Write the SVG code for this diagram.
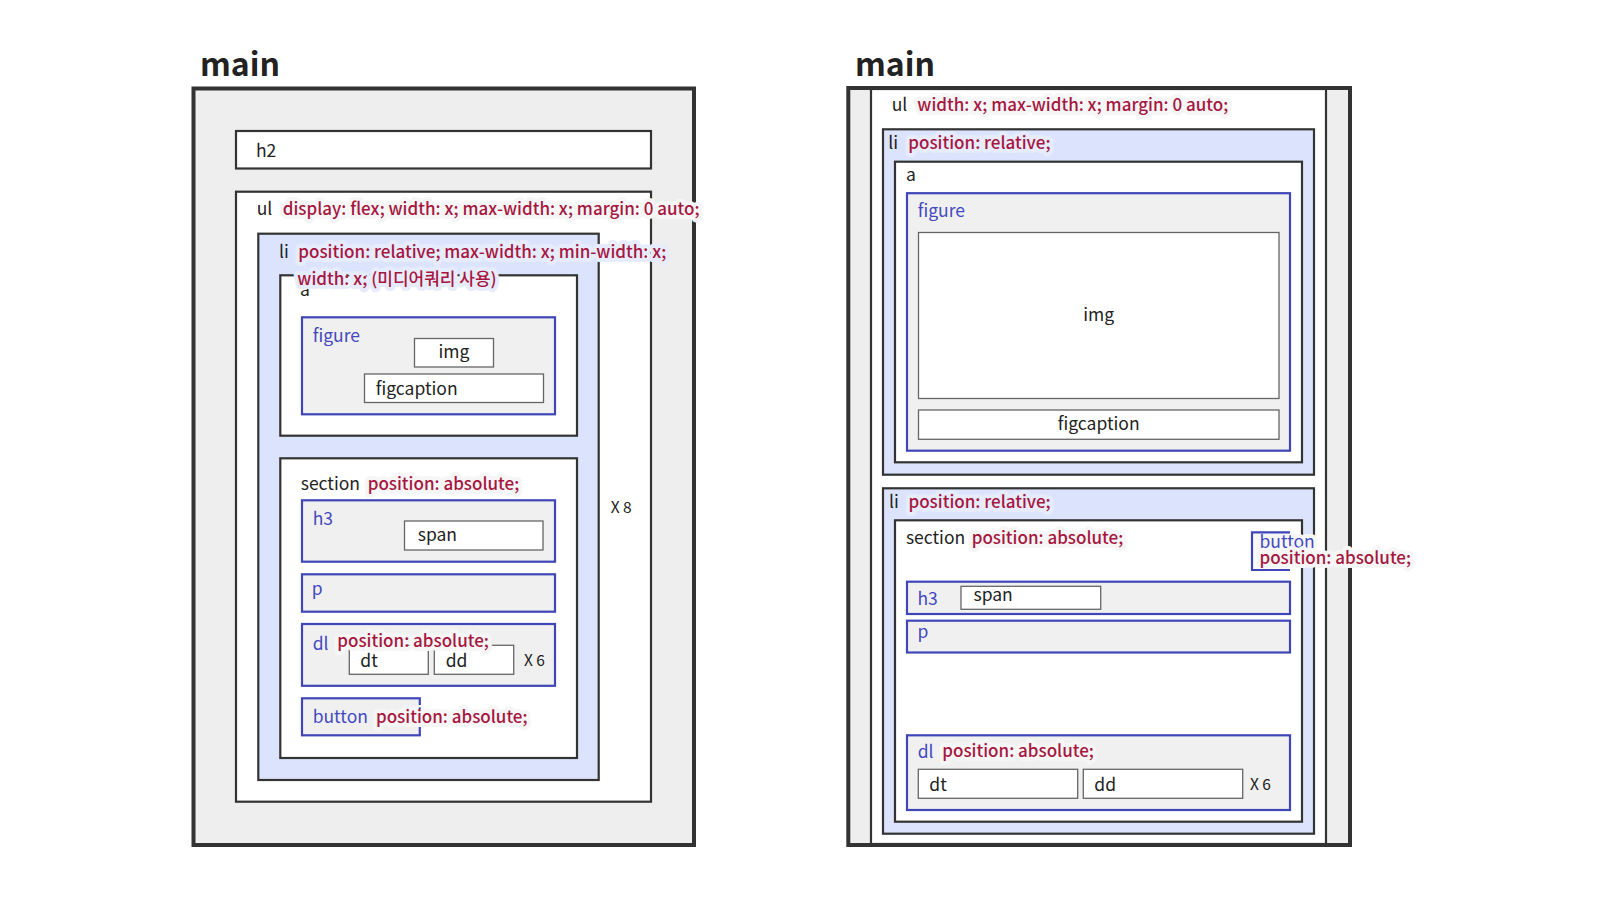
<svg xmlns="http://www.w3.org/2000/svg" width="1600" height="900" viewBox="0 0 1600 900">
<style>
.main{fill:#eeeeee;stroke:#333;stroke-width:4}
.dk{fill:#fff;stroke:#333;stroke-width:2.2}
.li{fill:#dce4fd;stroke:#333;stroke-width:2.2}
.bl{fill:#f0f0f0;stroke:#4046b8;stroke-width:2.2}
.lf{fill:#fff;stroke:#666;stroke-width:1.3}
text{font-family:"Noto Sans CJK KR","Source Sans Pro","Liberation Sans",sans-serif;font-size:17.5px;fill:#222}
.title{font-size:32px;font-weight:bold;fill:#222}
.tb{fill:#4449bf}
.tr{fill:#a6163f;font-size:17px;font-weight:500;paint-order:stroke;stroke:#f6f6f6;stroke-width:8;stroke-linejoin:round;stroke-linecap:round}
.hb{stroke:#e7ecfc}
.hw{paint-order:stroke;stroke:#f6f6f6;stroke-width:8;stroke-linejoin:round}
.sm{font-size:15.5px}
.mid{text-anchor:middle}
</style>
<rect width="1600" height="900" fill="#fff"/>
<g id="connectors"/>

<!-- LEFT DIAGRAM -->
<g id="left-main">
<text class="title" x="200" y="76">main</text>
<rect class="main" x="193.5" y="88.5" width="500.5" height="756.5"/>
</g>
<g id="left-h2">
<rect class="dk" x="236" y="131" width="415" height="37.5"/>
<text x="256" y="157.3">h2</text>
</g>
<g id="left-ul">
<rect class="dk" x="236" y="191.7" width="415" height="610"/>
</g>
<g id="left-li">
<rect class="li" x="258.3" y="233.7" width="340.4" height="546.3"/>
</g>
<g id="left-a">
<rect class="dk" x="280.3" y="275.3" width="296.7" height="160.4"/>
<text x="300" y="296">a</text>
</g>
<g id="left-figure">
<rect class="bl" x="302" y="317.3" width="253" height="97"/>
<text class="tb" x="312.7" y="341.7">figure</text>
</g>
<g id="left-img">
<rect class="lf" x="414.5" y="338.5" width="79" height="28.5"/>
<text class="mid" x="454" y="358.3">img</text>
</g>
<g id="left-figcaption">
<rect class="lf" x="364.5" y="374" width="179" height="28.5"/>
<text x="375.7" y="395">figcaption</text>
</g>
<g id="left-section">
<rect class="dk" x="280.3" y="458.3" width="296.7" height="299.7"/>
<text x="300.7" y="490">section</text>
</g>
<g id="left-h3">
<rect class="bl" x="302" y="500.3" width="253" height="61.4"/>
<text class="tb" x="312.7" y="525">h3</text>
</g>
<g id="left-span">
<rect class="lf" x="404.5" y="521" width="138.5" height="29"/>
<text x="417.7" y="540.7">span</text>
</g>
<g id="left-p">
<rect class="bl" x="302" y="574.3" width="253" height="37.4"/>
<text class="tb" x="311.7" y="595">p</text>
</g>
<g id="left-dl">
<rect class="bl" x="302" y="624" width="253" height="61.8"/>
<text class="tb" x="312.7" y="650">dl</text>
</g>
<g id="left-dt">
<rect class="lf" x="349.3" y="645.3" width="79" height="29"/>
<text x="360.3" y="666.7">dt</text>
</g>
<g id="left-dd">
<rect class="lf" x="434.3" y="645.3" width="79.4" height="29"/>
<text x="445.7" y="666.7">dd</text>
</g>
<text class="sm" x="524" y="666">X 6</text>
<g id="left-button">
<rect class="bl" x="302" y="698.3" width="117.8" height="37"/>
<text class="tb" x="312.7" y="723.3">button</text>
</g>
<text class="sm" x="610.7" y="512.7">X 8</text>
<g id="left-notes">
<text x="256.7" y="215">ul</text>
<text class="tr" x="282.7" y="215">display: flex; width: x; max-width: x; margin: 0 auto;</text>
<text x="279" y="258.3">li</text>
<text class="tr hb" x="298.3" y="258.3">position: relative; max-width: x; min-width: x;</text>
<text class="tr hb" x="297.3" y="285">width: x; (미디어쿼리 사용)</text>
<text class="tr" x="367.7" y="490">position: absolute;</text>
<text class="tr" x="337.3" y="647.3">position: absolute;</text>
<text class="tr" x="376" y="722.7">position: absolute;</text>
</g>

<!-- RIGHT DIAGRAM -->
<g id="right-main">
<text class="title" x="855" y="76">main</text>
<rect class="main" x="848.3" y="88" width="501.7" height="757"/>
</g>
<g id="right-ul">
<rect class="dk" x="871" y="89" width="455" height="755"/>
<text x="891.7" y="111">ul</text>
<text class="tr" x="917.3" y="111">width: x; max-width: x; margin: 0 auto;</text>
</g>
<g id="right-li1">
<rect class="li" x="883" y="129.3" width="431" height="345.4"/>
<text x="888.3" y="149.3">li</text>
<text class="tr hb" x="908.3" y="149.3">position: relative;</text>
</g>
<g id="right-a">
<rect class="dk" x="895" y="161.7" width="407" height="300.6"/>
<text x="906" y="180.7">a</text>
</g>
<g id="right-figure">
<rect class="bl" x="907" y="193.2" width="383" height="257.5"/>
<text class="tb" x="917.7" y="217.3">figure</text>
</g>
<g id="right-img">
<rect class="lf" x="918.5" y="232.5" width="360.5" height="166"/>
<text class="mid" x="1098.7" y="320.6">img</text>
</g>
<g id="right-figcaption">
<rect class="lf" x="918.5" y="410" width="360.5" height="29.3"/>
<text class="mid" x="1098.7" y="430">figcaption</text>
</g>
<g id="right-li2">
<rect class="li" x="883" y="488.3" width="431" height="345.4"/>
<text x="889" y="507.7">li</text>
<text class="tr hb" x="908.5" y="507.7">position: relative;</text>
</g>
<g id="right-section">
<rect class="dk" x="895" y="520.3" width="407" height="301.4"/>
<text x="905.9" y="544">section</text>
<text class="tr" x="971.7" y="544">position: absolute;</text>
</g>
<g id="right-h3">
<rect class="bl" x="907" y="581.7" width="383" height="32.3"/>
<text class="tb" x="917.4" y="605">h3</text>
</g>
<g id="right-span">
<rect class="lf" x="961" y="586.3" width="139.7" height="23"/>
<text x="973.5" y="600.7">span</text>
</g>
<g id="right-p">
<rect class="bl" x="907" y="620.7" width="383" height="31.8"/>
<text class="tb" x="917.4" y="638">p</text>
</g>
<g id="right-dl">
<rect class="bl" x="907" y="735.3" width="383" height="74.7"/>
<text class="tb" x="917.7" y="758.3">dl</text>
<text class="tr" x="942.3" y="756.7">position: absolute;</text>
</g>
<g id="right-dt">
<rect class="lf" x="918.3" y="769.3" width="159.4" height="29"/>
<text x="929.3" y="790.7">dt</text>
</g>
<g id="right-dd">
<rect class="lf" x="1083.3" y="769.3" width="159.4" height="29"/>
<text x="1094.3" y="790.7">dd</text>
</g>
<text class="sm" x="1250" y="790">X 6</text>
<g id="right-button">
<rect x="1252" y="532.3" width="38" height="37.7" fill="#fafafa"/>
<text class="tb hw" x="1259.5" y="548.3">button</text>
<text class="tr" x="1259.5" y="564">position: absolute;</text>
<path d="M1290,532.3 H1252 V570 H1290" fill="none" stroke="#4046b8" stroke-width="2.2"/>
</g>
</svg>
